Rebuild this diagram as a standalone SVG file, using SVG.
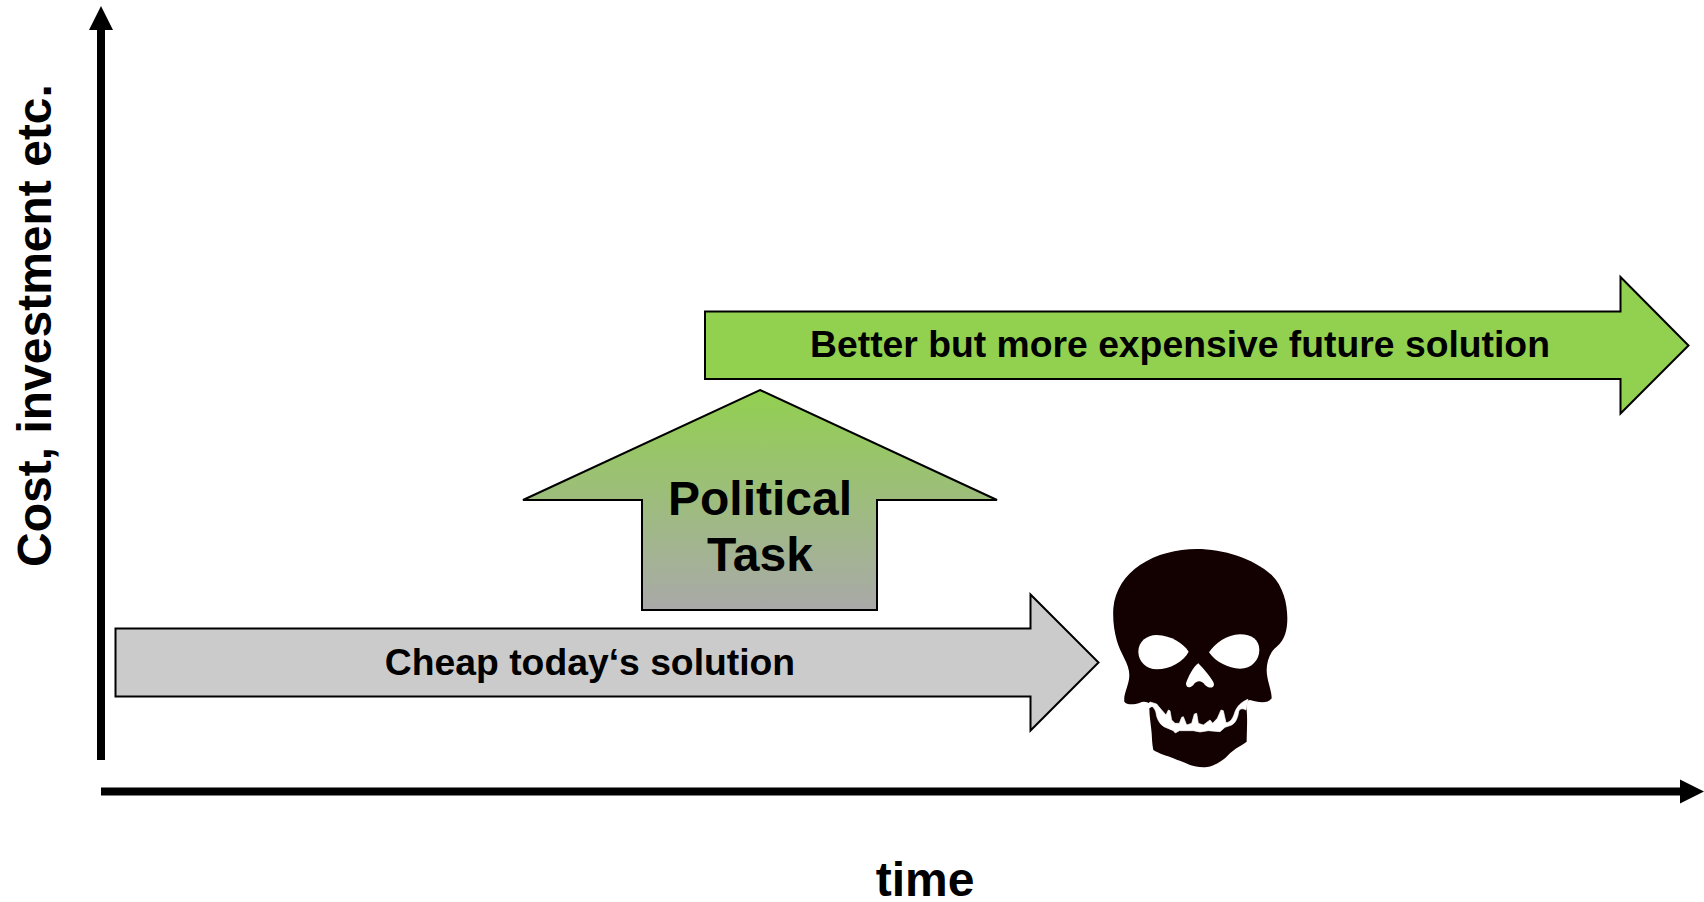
<svg xmlns="http://www.w3.org/2000/svg" width="1704" height="902" viewBox="0 0 1704 902">
<style>
text{font-family:"Liberation Sans",Arial,sans-serif;font-weight:bold;fill:#000;text-anchor:middle}
.block{stroke:#000;stroke-width:2;stroke-linejoin:miter}
.axis{stroke:#000;stroke-width:8;fill:none}
</style>
<defs>
<linearGradient id="pol" x1="0" y1="0" x2="0" y2="1"><stop offset="0" stop-color="#92d050"/><stop offset="1" stop-color="#a9a9a9"/></linearGradient>
</defs>
<rect width="1704" height="902" fill="#fff"/>
<g id="connectors">
<line class="axis" x1="101" y1="760" x2="101" y2="28"/>
<polygon points="101,6 113,30 89,30" fill="#000"/>
<line class="axis" x1="101" y1="791.500" x2="1682" y2="791.500"/>
<polygon points="1704,791.500 1680,779.500 1680,803.500" fill="#000"/>
</g>
<g id="y-label"><text transform="translate(51,325.500) rotate(-90)" font-size="48">Cost, investment etc.</text></g>
<g id="x-label"><text x="925" y="896" font-size="48">time</text></g>
<g id="future-arrow">
<polygon class="block" fill="#92d050" points="705,311.500 1620.500,311.500 1620.500,277 1688.500,345.500 1620.500,413.500 1620.500,379 705,379"/>
<text x="1180" y="357" font-size="37.300">Better but more expensive future solution</text>
</g>
<g id="political-task">
<polygon class="block" fill="url(#pol)" points="760,390 997,500 877,500 877,610 642,610 642,500 523,500"/>
<text x="760" y="515" font-size="48">Political</text>
<text x="760" y="571" font-size="48">Task</text>
</g>
<g id="today-arrow">
<polygon class="block" fill="#cbcbcb" points="115.500,628.500 1030.500,628.500 1030.500,594.500 1098.500,662.500 1030.500,730.500 1030.500,696.500 115.500,696.500"/>
<text x="590" y="675" font-size="37.300">Cheap today‘s solution</text>
</g>
<g id="skull" transform="translate(1090,530) scale(0.33333)">
<path fill="#130000" d="M320,57C400,57 490,85 545,135C580,170 592,220 592,265C592,300 585,330 560,350C540,365 530,395 530,420C530,450 545,480 545,505C530,525 500,515 480,510L472,512L470,540C473,570 470,610 470,635C450,650 435,655 420,670C405,685 400,690 390,695C370,708 355,712 340,712C325,712 310,708 300,705C285,697 265,692 250,685C230,677 205,670 190,660C186,640 186,625 185,610C183,585 178,560 178,535L190,528C175,515 160,512 150,518C130,525 110,525 103,515C100,490 118,465 118,435C118,400 90,370 80,330C72,300 68,270 70,235C75,180 105,135 150,105C200,72 260,57 320,57Z"/>
<path fill="#fff" d="M145,365C145,335 170,315 200,315C245,317 280,340 296,365C280,395 240,418 200,418C170,418 145,395 145,365Z"/>
<path fill="#fff" d="M508,360C508,330 485,313 450,313C410,315 375,340 357,367C375,395 415,415 450,416C485,416 508,390 508,360Z"/>
<path fill="#fff" d="M325,400C340,415 370,450 372,462C372,477 355,475 345,465C335,450 320,450 310,465C300,475 288,475 288,460C295,440 310,410 325,400Z"/>
<path fill="#fff" stroke="#fff" stroke-width="2" stroke-linejoin="round" transform="translate(150,480)" d="M22,46L28,48C38,46 46,58 48,68C50,85 58,102 72,110L100,122L106,129L118,122L135,122L160,122L180,126L205,122L240,125L255,112L275,105C288,98 294,80 296,65C298,57 306,53 318,60L324,28C305,35 290,50 284,68C280,82 272,98 258,98L250,62L243,60L232,85L218,100L210,90L190,105L175,100L170,70L163,72L155,100L140,105L130,80L125,82L118,100L105,100L95,90L90,62L85,60L78,75C70,65 60,55 50,42L30,36Z"/>
</g>
</svg>
